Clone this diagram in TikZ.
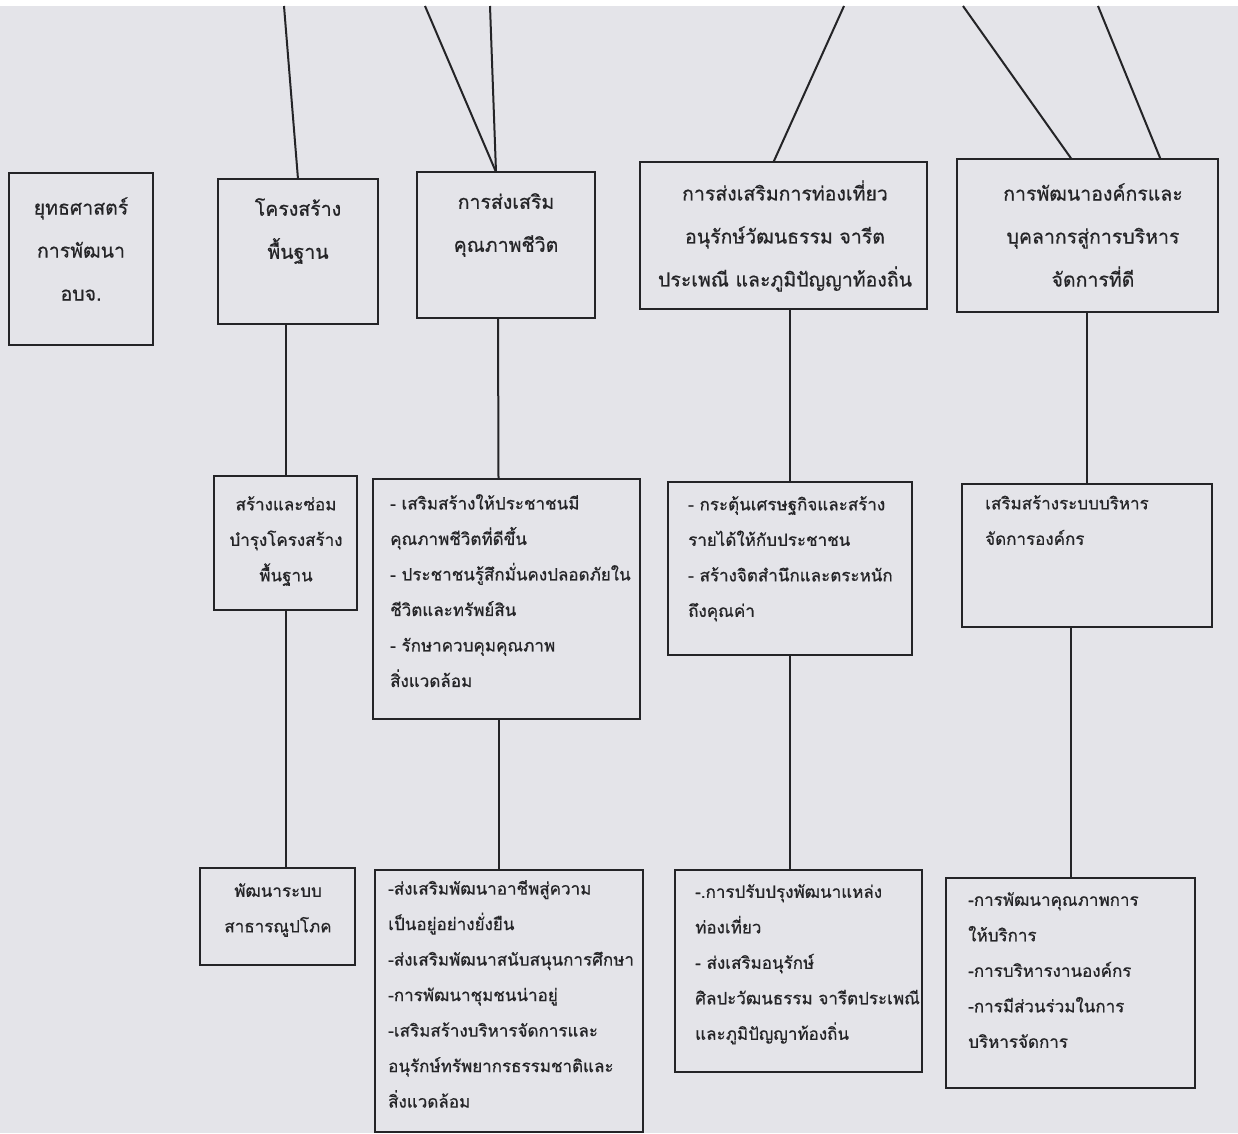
\documentclass[tikz,border=0pt]{standalone}
\usepackage{fontspec}
\newfontface\thaifont{Loma}[Script=Thai,FakeBold=0.7]
\definecolor{paper}{HTML}{E4E4E9}
\definecolor{ink}{HTML}{242427}
\begin{document}
\begin{tikzpicture}[x=1pt,y=-1pt,
  frame/.style 2 args={draw=ink,line width=2.6pt,inner sep=0pt,outer sep=0pt,anchor=north west,minimum width=#1pt,minimum height=#2pt},
  head/.style={font=\thaifont\fontsize{19.5}{43}\selectfont,align=center,text=ink,inner sep=0pt},
  body/.style={font=\thaifont\fontsize{17}{35.5}\selectfont,align=left,text=ink,inner sep=0pt,anchor=north west},
  link/.style={draw=ink,line width=2pt}]
\fill[paper] (0,0) rectangle (1238,1133);
\fill[white] (0,0) rectangle (1238,6);
\useasboundingbox (0,0) rectangle (1238,1133);

% row 1
\node[frame={144}{172}] (b1) at (9,173) {};
\node[frame={160}{145}] (b2) at (218,179) {};
\node[frame={178}{146}] (b3) at (417,172) {};
\node[frame={287}{147}] (b4) at (640,162) {};
\node[frame={261}{153}] (b5) at (957,159) {};
% row 2
\node[frame={143}{134}] (b6) at (214,476) {};
\node[frame={267}{240}] (b7) at (373,479) {};
\node[frame={244}{173}] (b8) at (668,482) {};
\node[frame={250}{143}] (b9) at (962,484) {};
% row 3
\node[frame={155}{97}] (b10) at (200,868) {};
\node[frame={268}{262}] (b11) at (375,870) {};
\node[frame={247}{202}] (b12) at (675,870) {};
\node[frame={249}{210}] (b13) at (946,878) {};

% texts
\node[head] (h1) at (81,249) {ยุทธศาสตร์\\การพัฒนา\\อบจ.};
\node[head] (h2) at (298,231) {โครงสร้าง\\พื้นฐาน};
\node[head] (h3) at (506,225) {การส่งเสริม\\คุณภาพชีวิต};
\node[head] (h4) at (785,236) {การส่งเสริมการท่องเที่ยว\\อนุรักษ์วัฒนธรรม จารีต\\ประเพณี และภูมิปัญญาท้องถิ่น};
\node[head] (h5) at (1093,235) {การพัฒนาองค์กรและ\\บุคลากรสู่การบริหาร\\จัดการที่ดี};

\node[body,anchor=center,align=center] (h6) at (286,541) {สร้างและซ่อม\\บำรุงโครงสร้าง\\พื้นฐาน};
\node[body] (h7) at (390,494) {- เสริมสร้างให้ประชาชนมี\\คุณภาพชีวิตที่ดีขึ้น\\- ประชาชนรู้สึกมั่นคงปลอดภัยใน\\ชีวิตและทรัพย์สิน\\- รักษาควบคุมคุณภาพ\\สิ่งแวดล้อม};
\node[body] (h8) at (688,496) {- กระตุ้นเศรษฐกิจและสร้าง\\รายได้ให้กับประชาชน\\- สร้างจิตสำนึกและตระหนัก\\ถึงคุณค่า};
\node[body] (h9) at (985,495) {เสริมสร้างระบบบริหาร\\จัดการองค์กร};

\node[body,anchor=center,align=center] (h10) at (278,910) {พัฒนาระบบ\\สาธารณูปโภค};
\node[body] (h11) at (388,880) {-ส่งเสริมพัฒนาอาชีพสู่ความ\\เป็นอยู่อย่างยั่งยืน\\-ส่งเสริมพัฒนาสนับสนุนการศึกษา\\-การพัฒนาชุมชนน่าอยู่\\-เสริมสร้างบริหารจัดการและ\\อนุรักษ์ทรัพยากรธรรมชาติและ\\สิ่งแวดล้อม};
\node[body] (h12) at (695,884) {-.การปรับปรุงพัฒนาแหล่ง\\ท่องเที่ยว\\- ส่งเสริมอนุรักษ์\\ศิลปะวัฒนธรรม จารีตประเพณี\\และภูมิปัญญาท้องถิ่น};
\node[body] (h13) at (968,892) {-การพัฒนาคุณภาพการ\\ให้บริการ\\-การบริหารงานองค์กร\\-การมีส่วนร่วมในการ\\บริหารจัดการ};

% top free ends
\coordinate (t1) at (284,6);
\coordinate (t2) at (425,6);
\coordinate (t3) at (490,6);
\coordinate (t4) at (844,6);
\coordinate (t5) at (963,6);
\coordinate (t6) at (1098,6);
\draw[link] (t1) -- (b2.north);
\draw[link] (t2) -- ([xshift=-10pt]b3.north);
\draw[link] (t3) -- ([xshift=-10pt]b3.north);
\draw[link] (t4) -- ([xshift=-10pt]b4.north);
\draw[link] (t5) -- ([xshift=-16pt]b5.north);
\draw[link] (t6) -- ([xshift=73pt]b5.north);

% vertical connectors
\draw[link] (b6.north |- b2.south) -- (b6.north);
\draw[link] (b10.north -| b6.south) -- (b6.south);
\draw[link] ([xshift=-8pt]b3.south) -- ([xshift=-8pt]b7.north);
\draw[link] ([xshift=-8pt]b7.south) -- ([xshift=-8pt]b7.south |- b11.north);
\draw[link] (b8.north |- b4.south) -- (b8.north);
\draw[link] (b8.south) -- (b8.south |- b12.north);
\draw[link] (b9.north |- b5.south) -- (b9.north);
\draw[link] (b13.north |- b9.south) -- (b13.north);
\end{tikzpicture}
\end{document}
